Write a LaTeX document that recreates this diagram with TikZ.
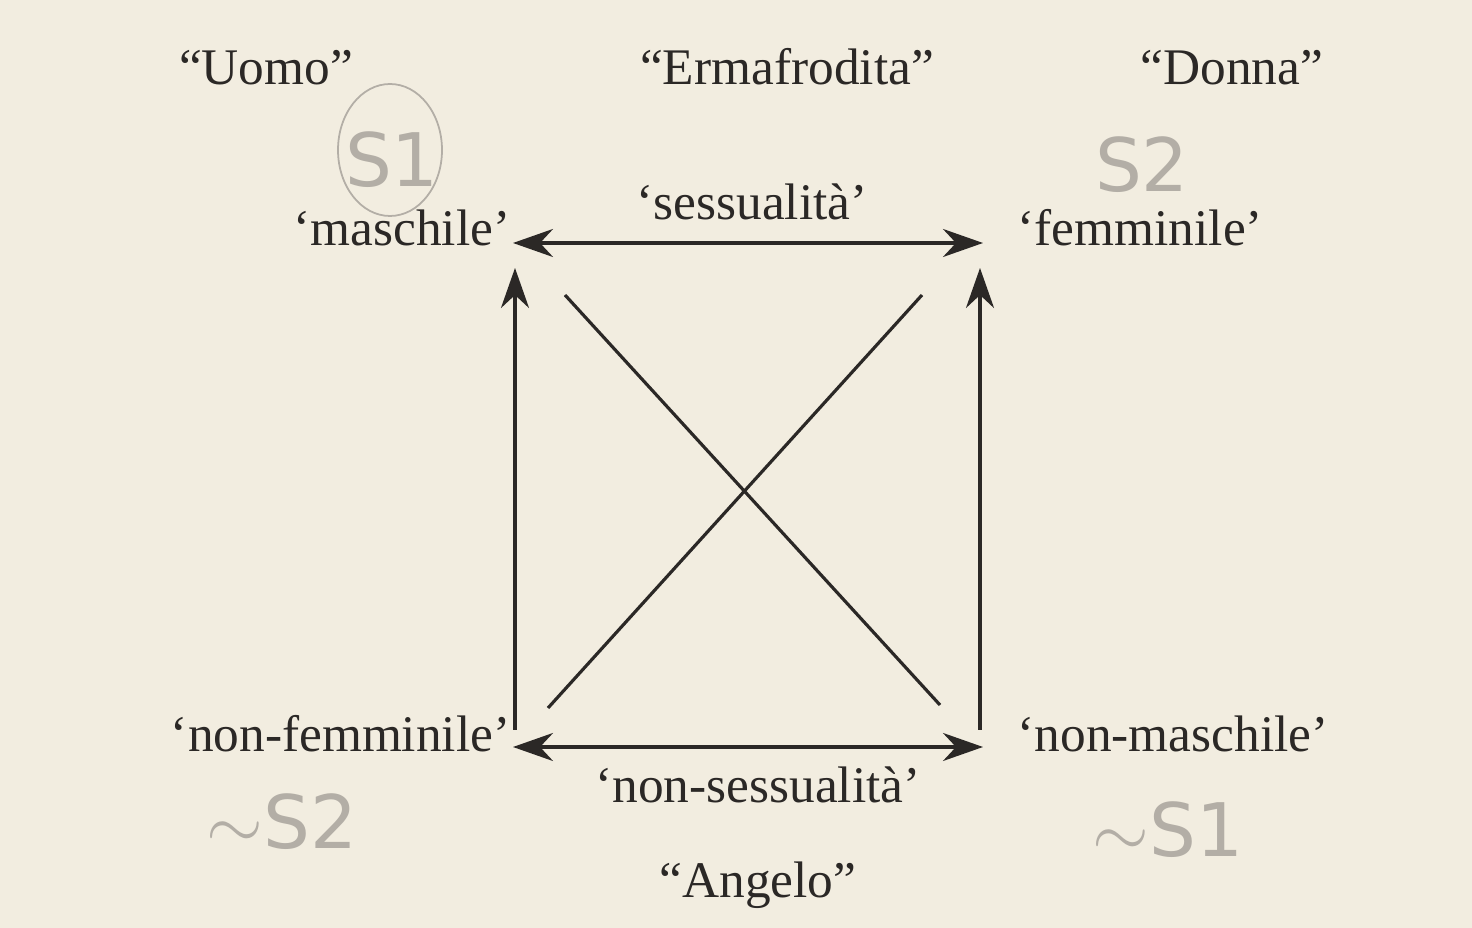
\documentclass[tikz,border=0pt]{standalone}
\usepackage{fontspec}
\setmainfont{Liberation Serif}
\newfontfamily\pencilfont{DejaVu Sans}
\usetikzlibrary{arrows.meta}

\begin{document}
\begin{tikzpicture}[x=0.01cm, y=-0.01cm]
    % Define colours
    \definecolor{paperColour}{HTML}{F2EDE0}
    \definecolor{inkColour}{HTML}{2B2826}
    \definecolor{pencilColour}{HTML}{B3AEA6}

    % Define styles
    \tikzset{
        term/.style={font=\fontsize{14.6}{17}\selectfont, text=inkColour, inner sep=0pt},
        link/.style={draw=inkColour, line width=0.9pt},
        oneway/.style={link, -{Stealth[length=4mm, width=2.8mm, inset=1.3mm]}},
        twoway/.style={link, {Stealth[length=4mm, width=2.8mm, inset=1.3mm]}-{Stealth[length=4mm, width=2.8mm, inset=1.3mm]}},
        pencil/.style={font=\pencilfont\fontsize{21}{24}\selectfont, text=pencilColour}
    }

    % Draw the paper
    \fill[paperColour] (0,0) rectangle (1472,928);
    \useasboundingbox (0,0) rectangle (1472,928);

    % Define coordinates for the corners of the square
    \coordinate (S1) at (513,243);
    \coordinate (S2) at (983,243);
    \coordinate (nS2) at (513,747);
    \coordinate (nS1) at (983,747);
    \coordinate (S1up) at (515,268);
    \coordinate (S1low) at (515,730);
    \coordinate (S2up) at (980,268);
    \coordinate (S2low) at (980,730);
    \coordinate (S1diag) at (565,295);
    \coordinate (nS1diag) at (940,705);
    \coordinate (S2diag) at (922,295);
    \coordinate (nS2diag) at (548,708);

    % Draw the names of the four positions
    \node[term, anchor=base] (uomo) at (266,85) {“Uomo”};
    \node[term, anchor=base] (ermafrodita) at (787,85) {“Ermafrodita”};
    \node[term, anchor=base] (donna) at (1232,85) {“Donna”};
    \node[term, anchor=base] (angelo) at (758,898) {“Angelo”};

    % Draw the terms at the corners
    \node[term, anchor=base east] (maschile) at (511,246) {‘maschile’};
    \node[term, anchor=base west] (femminile) at (1017,246) {‘femminile’};
    \node[term, anchor=base east] (nonfemminile) at (511,752) {‘non-femminile’};
    \node[term, anchor=base west] (nonmaschile) at (1017,752) {‘non-maschile’};
    \node[term, anchor=base] (sessualita) at (752,220) {‘sessualità’};
    \node[term, anchor=base] (nonsessualita) at (758,803) {‘non-sessualità’};

    % Draw the arrows of the square
    \draw[twoway] (S1) -- (S2);
    \draw[twoway] (nS2) -- (nS1);
    \draw[oneway] (S1low) -- (S1up);
    \draw[oneway] (S2low) -- (S2up);

    % Draw the diagonals
    \draw[link] (S1diag) -- (nS1diag);
    \draw[link] (S2diag) -- (nS2diag);

    % Pencil notes
    \node[pencil] (noteS1) at (392,160) {S1};
    \draw[pencilColour, line width=0.5pt] (390,150) ellipse (52 and 66);
    \node[pencil] (noteS2) at (1142,165) {S2};
    \node[pencil] (notenS2) at (282,822) {$\sim$S2};
    \node[pencil] (notenS1) at (1168,830) {$\sim$S1};
\end{tikzpicture}
\end{document}
